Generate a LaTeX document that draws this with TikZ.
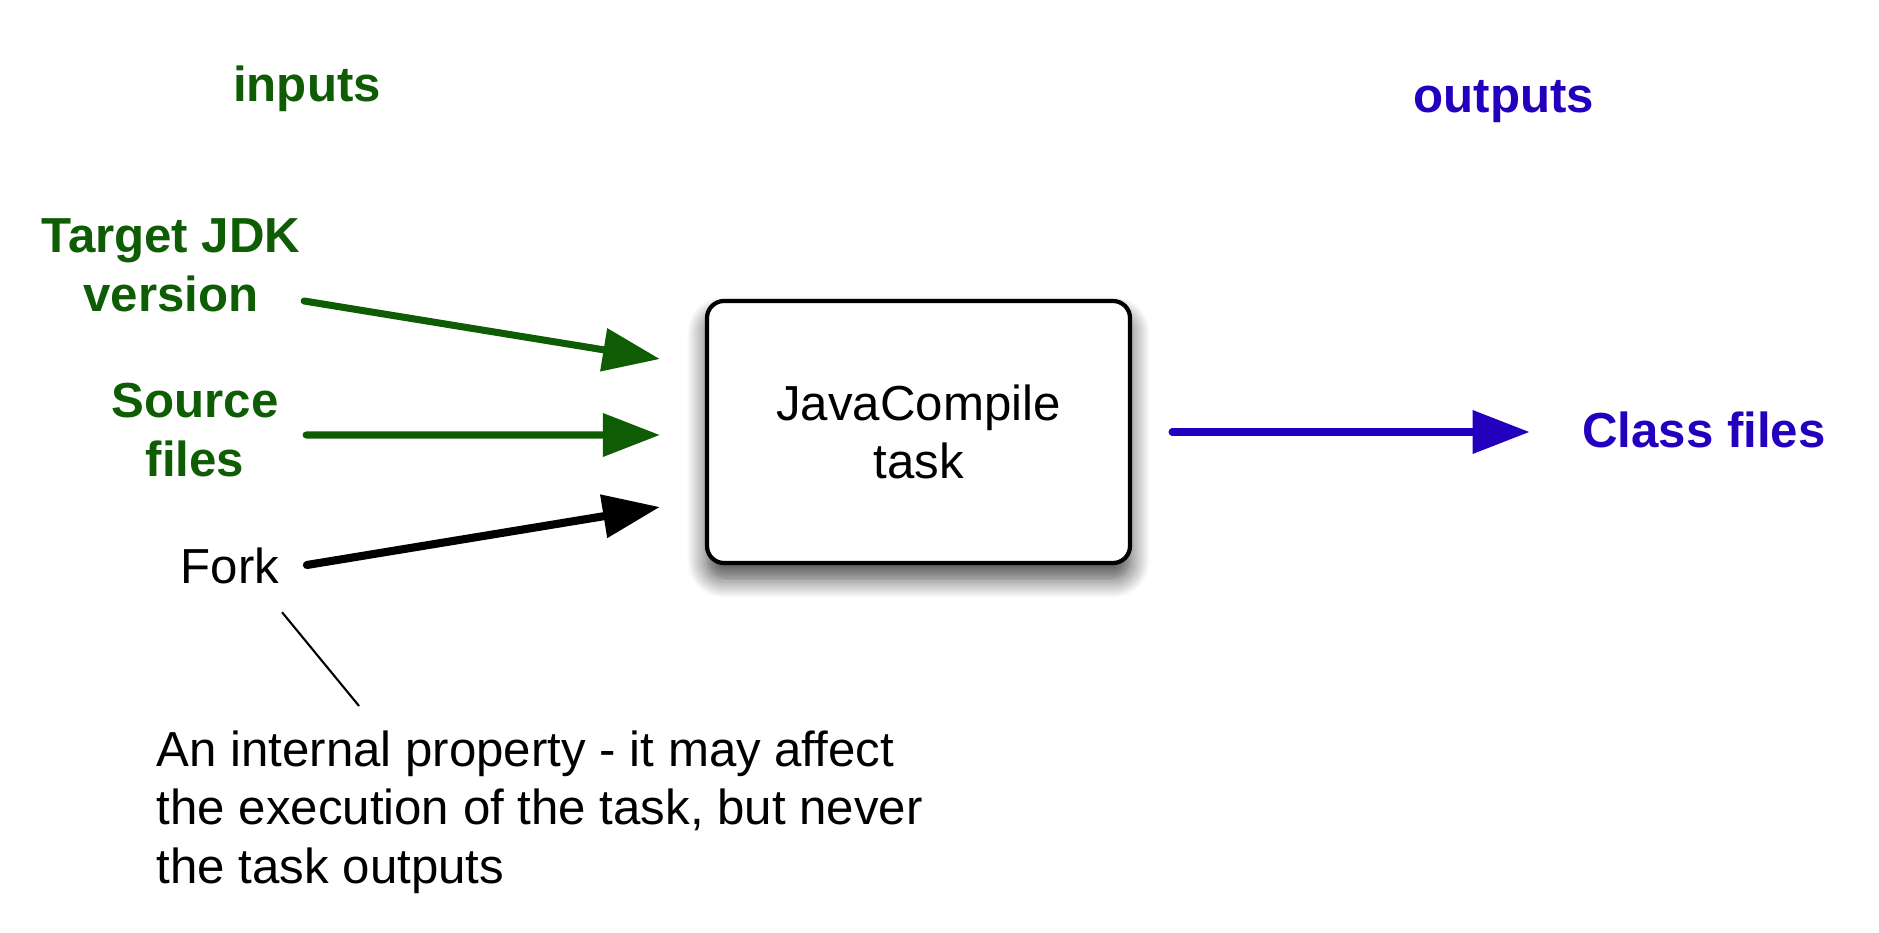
\documentclass[tikz,border=0pt]{standalone}
\usepackage{fontspec}
\setmainfont{Liberation Sans}
\usetikzlibrary{positioning,arrows.meta,shadows.blur}
\definecolor{ingreen}{RGB}{14,92,3}
\definecolor{outblue}{RGB}{35,0,190}

\begin{document}
\begin{tikzpicture}[font=\fontsize{14}{16.6}\selectfont,
  lbl/.style={inner sep=0pt, align=center, font=\fontsize{14}{16.8}\selectfont\bfseries},
  taskbox/.style={draw, line width=1.2pt, rounded corners=0.17cm, fill=white, minimum width=4.23cm, minimum height=2.62cm, align=center,
    blur shadow={shadow xshift=0pt, shadow yshift=-0.15cm, shadow blur radius=0.2cm, shadow blur steps=14, shadow opacity=75}},
  arr/.style={-{Triangle[length=0.57cm, width=0.42cm]}, line width=2pt, line cap=round}]
\useasboundingbox (0,0) rectangle (18.79,-9.33);
\node[taskbox] (task) at (9.185,-4.32) {JavaCompile\\ task};
\node[lbl, text=ingreen, anchor=base] (inputs) at (3.07,-1.02) {inputs};
\node[lbl, text=outblue, anchor=base] (outputs) at (15.04,-1.13) {outputs};
\node[lbl, text=ingreen, anchor=base] (jdk) at (1.71,-3.12) {Target JDK\\ version};
\node[lbl, text=ingreen, anchor=base] (src) at (1.95,-4.77) {Source\\ files};
\node[inner sep=0pt, anchor=base] (fork) at (2.30,-5.83) {Fork};
\node[inner sep=0pt, align=left, anchor=base west] (note) at (1.56,-8.83) {An internal property - it may affect\\ the execution of the task, but never\\ the task outputs};
\node[lbl, text=outblue, anchor=base] (cls) at (17.04,-4.48) {Class files};
% inputs into the task
\draw[arr, ingreen] ([shift={(0.03,0.11)}]jdk.base east) -- ([shift={(-0.45,0.73)}]task.west);
\draw[arr, ingreen] ([shift={(0.27,0.42)}]src.base east) -- ([shift={(-0.45,-0.03)}]task.west);
\draw[arr, line width=2.3pt] ([shift={(0.27,0.18)}]fork.base east) -- ([shift={(-0.45,-0.75)}]task.west);
% output
\draw[arr, outblue, shorten <=0.4cm, shorten >=0.52cm] (task.east) -- (task.east -| cls.west);
% note
\draw[line width=0.6pt] ([shift={(0.52,-0.28)}]fork.south) -- ([shift={(2.03,0.24)}]note.north west);
\end{tikzpicture}
\end{document}
